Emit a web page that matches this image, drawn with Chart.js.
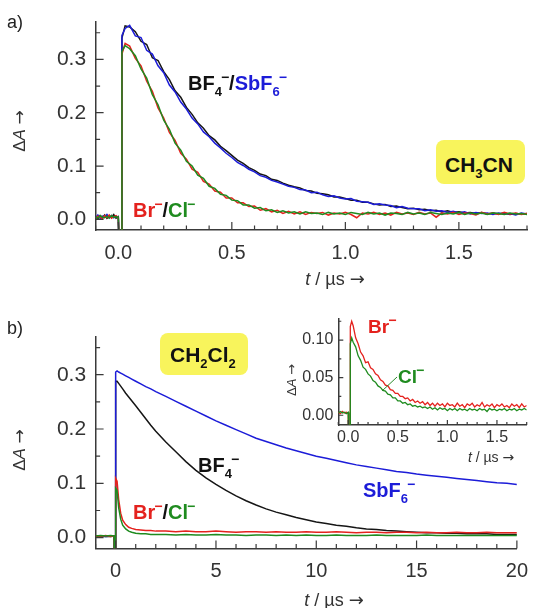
<!DOCTYPE html>
<html>
<head>
<meta charset="utf-8">
<script src="https://cdn.jsdelivr.net/npm/chart.js@4"></script>
<style>
  body { margin: 0; background: #fff; }
  #wrap { position: relative; width: 539px; height: 608px; overflow: hidden; font-family: "Liberation Sans", Arial, sans-serif; color: #333; }
  canvas { position: absolute; }
  .lbl { position: absolute; font-weight: bold; font-size: 20px; line-height: 20px; white-space: nowrap; color: #111; }
  .lbl sub { font-size: 13px; line-height: 0; vertical-align: -6px; }
  .lbl sup { font-size: 14px; line-height: 0; vertical-align: 8px; margin-left: -1px; }
  .box { position: absolute; background: #f8f45c; border-radius: 8px; }
  .ax { position: absolute; white-space: nowrap; line-height: 1; transform: translate(-50%, -50%); color: #333; }
  .ax .arr { font-family: "DejaVu Sans", sans-serif; }
  .rot { transform: translate(-50%, -50%) rotate(-90deg); }
  .tag { position: absolute; font-size: 18px; line-height: 18px; color: #222; }
</style>
</head>
<body>
<div id="wrap">
  <canvas id="chartA" width="539" height="300" style="left:0;top:0;width:539px;height:300px"></canvas>
  <canvas id="chartB" width="539" height="308" style="left:0;top:300px;width:539px;height:308px"></canvas>
  <canvas id="chartC" width="269" height="160" style="left:270px;top:300px;width:269px;height:160px"></canvas>

  <div class="tag" style="left:7px;top:13px">a)</div>
  <div class="tag" style="left:7px;top:319px">b)</div>

  <div class="ax rot" style="left:19px;top:131px;font-size:17px">Δ<i>A</i> <span class="arr">→</span></div>
  <div class="ax" style="left:335px;top:279px;font-size:18px"><i>t</i> / µs <span class="arr">→</span></div>
  <div class="ax rot" style="left:19px;top:450px;font-size:17px">Δ<i>A</i> <span class="arr">→</span></div>
  <div class="ax" style="left:334px;top:600px;font-size:18px"><i>t</i> / µs <span class="arr">→</span></div>
  <div class="ax rot" style="left:291px;top:380px;font-size:13px">Δ<i>A</i> <span class="arr">→</span></div>
  <div class="ax" style="left:491px;top:457px;font-size:14px"><i>t</i> / µs <span class="arr">→</span></div>

  <div class="lbl" style="left:188px;top:73px">BF<sub>4</sub><sup>−</sup>/<span style="color:#1c1cd8">SbF<sub>6</sub><sup>−</sup></span></div>
  <div class="lbl" style="left:133px;top:200px"><span style="color:#e4221e">Br<sup>−</sup></span>/<span style="color:#1f8b1f">Cl<sup>−</sup></span></div>
  <div class="box" style="left:436px;top:140px;width:89px;height:44px"></div>
  <div class="lbl" style="left:445px;top:154px;font-size:21px;line-height:21px">CH<sub>3</sub>CN</div>

  <div class="box" style="left:160px;top:333px;width:88px;height:42px"></div>
  <div class="lbl" style="left:170px;top:344px;font-size:21px;line-height:21px">CH<sub>2</sub>Cl<sub>2</sub></div>
  <div class="lbl" style="left:198px;top:455px">BF<sub>4</sub><sup>−</sup></div>
  <div class="lbl" style="left:133px;top:502px"><span style="color:#e4221e">Br<sup>−</sup></span>/<span style="color:#1f8b1f">Cl<sup>−</sup></span></div>
  <div class="lbl" style="left:363px;top:480px;color:#1c1cd8">SbF<sub>6</sub><sup>−</sup></div>
  <div class="lbl" style="left:368px;top:317px;font-size:19px;line-height:19px;color:#e4221e">Br<sup>−</sup></div>
  <div class="lbl" style="left:398px;top:367px;font-size:19px;line-height:19px;color:#1f8b1f">Cl<sup>−</sup></div>
  <svg style="position:absolute;left:0;top:0" width="539" height="608"><line x1="382" y1="391" x2="397" y2="377" stroke="#2a8a2a" stroke-width="1"/></svg>
</div>
<script>
// ---- panel a) CH3CN, t in µs ----
const tA = [-0.1, -0.09, -0.08, -0.07, -0.06, -0.05, -0.04, -0.03, -0.02, -0.01, 0,
  0.004, 0.015, 0.016, 0.03,
  0.05, 0.075, 0.1, 0.125, 0.15, 0.175, 0.2, 0.225, 0.25, 0.275,
  0.3, 0.325, 0.35, 0.375, 0.4, 0.425, 0.45, 0.475, 0.5, 0.525,
  0.55, 0.575, 0.6, 0.625, 0.65, 0.675, 0.7, 0.725, 0.75, 0.775,
  0.8, 0.825, 0.85, 0.875, 0.9, 0.925, 0.95, 0.975, 1, 1.025,
  1.05, 1.075, 1.1, 1.125, 1.15, 1.175, 1.2, 1.225, 1.25, 1.275,
  1.3, 1.325, 1.35, 1.375, 1.4, 1.425, 1.45, 1.475, 1.5, 1.525,
  1.55, 1.575, 1.6, 1.625, 1.65, 1.675, 1.7, 1.725, 1.75, 1.775, 1.8];
const bf4A = [0.005, 0.001, 0.007, 0.003, 0.008, 0.002, 0.006, 0.004, 0.009, 0.002, 0.005,
  -0.05, -0.05, 0.34, 0.363,
  0.361, 0.352, 0.334, 0.328, 0.303, 0.298, 0.277, 0.262, 0.241, 0.229,
  0.21, 0.197, 0.181, 0.171, 0.157, 0.149, 0.137, 0.129, 0.12, 0.111,
  0.105, 0.097, 0.092, 0.085, 0.082, 0.075, 0.073, 0.068, 0.064, 0.061,
  0.059, 0.054, 0.053, 0.049, 0.048, 0.046, 0.042, 0.042, 0.039, 0.036,
  0.036, 0.032, 0.032, 0.029, 0.027, 0.028, 0.024, 0.025, 0.022, 0.02,
  0.021, 0.018, 0.019, 0.016, 0.017, 0.014, 0.016, 0.013, 0.014, 0.012,
  0.013, 0.011, 0.013, 0.01, 0.012, 0.01, 0.012, 0.009, 0.011, 0.01, 0.011];
const sbf6A = [0.003, 0.008, 0.002, 0.006, 0.004, 0.009, 0.003, 0.007, 0.003, 0.006, 0.004,
  -0.05, -0.05, 0.345, 0.358,
  0.364, 0.344, 0.341, 0.317, 0.31, 0.288, 0.275, 0.252, 0.239, 0.22,
  0.207, 0.19, 0.179, 0.164, 0.155, 0.143, 0.134, 0.124, 0.116, 0.107,
  0.101, 0.094, 0.089, 0.082, 0.079, 0.073, 0.07, 0.066, 0.062, 0.06,
  0.056, 0.055, 0.05, 0.051, 0.046, 0.043, 0.044, 0.04, 0.038, 0.039,
  0.034, 0.033, 0.032, 0.028, 0.029, 0.027, 0.026, 0.022, 0.024, 0.021,
  0.02, 0.02, 0.016, 0.018, 0.015, 0.016, 0.013, 0.015, 0.012, 0.014,
  0.01, 0.013, 0.011, 0.012, 0.009, 0.012, 0.01, 0.011, 0.008, 0.012, 0.01];
const brA = [0.002, 0.006, 0.004, 0.001, 0.007, 0.003, 0.008, 0.002, 0.005, 0.007, 0.003,
  -0.05, -0.05, 0.31, 0.33,
  0.325, 0.302, 0.288, 0.259, 0.24, 0.209, 0.19, 0.163, 0.148, 0.124,
  0.113, 0.094, 0.088, 0.071, 0.066, 0.053, 0.051, 0.04, 0.04, 0.031,
  0.031, 0.024, 0.025, 0.017, 0.02, 0.014, 0.017, 0.011, 0.015, 0.01,
  0.014, 0.009, 0.013, 0.011, 0.013, 0.008, 0.012, 0.01, 0.013, 0.009,
  0.003, 0.012, 0.01, 0.013, 0.009, 0.012, 0.008, 0.013, 0.01, 0.012,
  0.009, 0.013, 0.01, 0.012, 0.004, 0.012, 0.01, 0.013, 0.009, 0.012,
  0.011, 0.008, 0.013, 0.01, 0.012, 0.009, 0.013, 0.01, 0.012, 0.009, 0.011];
const clA = [0.005, 0.002, 0.007, 0.004, 0.003, 0.006, 0.002, 0.007, 0.004, 0.005, 0.004,
  -0.05, -0.05, 0.315, 0.326,
  0.32, 0.307, 0.282, 0.265, 0.234, 0.215, 0.186, 0.169, 0.143, 0.13,
  0.109, 0.1, 0.083, 0.077, 0.062, 0.058, 0.047, 0.045, 0.036, 0.035,
  0.027, 0.027, 0.021, 0.022, 0.016, 0.018, 0.013, 0.016, 0.012, 0.014,
  0.01, 0.014, 0.011, 0.012, 0.009, 0.013, 0.01, 0.012, 0.009, 0.013,
  0.011, 0.009, 0.013, 0.01, 0.012, 0.008, 0.012, 0.011, 0.009, 0.013,
  0.01, 0.012, 0.009, 0.013, 0.011, 0.009, 0.012, 0.01, 0.013, 0.009,
  0.012, 0.01, 0.012, 0.009, 0.012, 0.011, 0.009, 0.012, 0.01, 0.011, 0.009];

// ---- panel b) CH2Cl2, t in µs ----
const tB = [-1, -0.75, -0.5, -0.25, -0.08, -0.07, -0.01, 0,
  0.07, 0.15, 0.25, 0.35, 0.5, 0.65, 0.8, 1, 1.25, 1.5, 1.75, 2,
  2.5, 3, 3.5, 4, 4.5, 5, 5.5, 6, 6.5, 7, 7.5, 8, 8.5, 9, 9.5, 10,
  10.5, 11, 11.5, 12, 12.5, 13, 13.5, 14, 14.5, 15, 15.5, 16, 16.5, 17, 17.5, 18, 18.5, 19, 19.5, 20];
const bf4B = [0.002, 0.003, 0.002, 0.002, 0.003, -0.05, -0.05, 0.288,
  0.288, 0.284, 0.279, 0.274, 0.266, 0.259, 0.252, 0.243, 0.231, 0.219, 0.207, 0.196,
  0.176, 0.158, 0.14, 0.124, 0.11, 0.098, 0.087, 0.077, 0.068, 0.06, 0.053, 0.047, 0.042, 0.037, 0.033, 0.029,
  0.026, 0.023, 0.021, 0.018, 0.016, 0.015, 0.013, 0.012, 0.011, 0.01, 0.009, 0.009, 0.008, 0.008, 0.007, 0.007, 0.007, 0.006, 0.006, 0.006];
const sbf6B = [0.002, 0.003, 0.002, 0.003, 0.002, -0.05, -0.05, 0.305,
  0.307, 0.305, 0.303, 0.301, 0.298, 0.295, 0.292, 0.288, 0.283, 0.278, 0.274, 0.269,
  0.26, 0.251, 0.242, 0.233, 0.224, 0.215, 0.207, 0.199, 0.191, 0.183, 0.177, 0.171, 0.165, 0.16, 0.155, 0.15,
  0.146, 0.142, 0.138, 0.134, 0.131, 0.128, 0.125, 0.122, 0.12, 0.117, 0.115, 0.113, 0.111, 0.109, 0.107, 0.105, 0.103, 0.101, 0.1, 0.098];
const brB = [0.003, 0.002, 0.004, 0.002, 0.003, -0.05, -0.05, 0.109,
  0.104, 0.07, 0.045, 0.032, 0.024, 0.019, 0.017, 0.015, 0.014, 0.013, 0.013, 0.012,
  0.012, 0.011, 0.012, 0.011, 0.011, 0.012, 0.011, 0.01, 0.011, 0.011, 0.01, 0.011, 0.01, 0.01, 0.011, 0.01,
  0.01, 0.011, 0.01, 0.009, 0.01, 0.01, 0.009, 0.01, 0.01, 0.009, 0.01, 0.009, 0.009, 0.01, 0.009, 0.009, 0.01, 0.009, 0.009, 0.009];
const clB = [0.003, 0.004, 0.003, 0.004, 0.003, -0.05, -0.05, 0.091,
  0.087, 0.055, 0.034, 0.023, 0.016, 0.012, 0.01, 0.008, 0.007, 0.007, 0.006, 0.006,
  0.006, 0.005, 0.006, 0.005, 0.005, 0.006, 0.005, 0.005, 0.004, 0.005, 0.005, 0.004, 0.005, 0.004, 0.005, 0.004,
  0.004, 0.005, 0.004, 0.004, 0.004, 0.005, 0.004, 0.004, 0.004, 0.004, 0.005, 0.004, 0.004, 0.004, 0.004, 0.004, 0.004, 0.004, 0.004, 0.004];

// ---- inset: Br- / Cl- in CH2Cl2, short time ----
const tI = [-0.1, -0.08, -0.06, -0.04, -0.02, 0, 0.005, 0.02, 0.021, 0.035,
  0.05, 0.075, 0.1, 0.125, 0.15, 0.175, 0.2, 0.225, 0.25, 0.275,
  0.3, 0.325, 0.35, 0.375, 0.4, 0.425, 0.45, 0.475, 0.5, 0.525,
  0.55, 0.575, 0.6, 0.625, 0.65, 0.675, 0.7, 0.725, 0.75, 0.775,
  0.8, 0.825, 0.85, 0.875, 0.9, 0.925, 0.95, 0.975, 1, 1.025,
  1.05, 1.075, 1.1, 1.125, 1.15, 1.175, 1.2, 1.225, 1.25, 1.275,
  1.3, 1.325, 1.35, 1.375, 1.4, 1.425, 1.45, 1.475, 1.5, 1.525,
  1.55, 1.575, 1.6, 1.625, 1.65, 1.675, 1.7, 1.725, 1.75, 1.775, 1.8];
const brI = [0.004, 0.002, 0.005, 0.003, 0.004, 0.003, -0.05, -0.05, 0.118, 0.125,
  0.119, 0.103, 0.095, 0.084, 0.079, 0.07, 0.071, 0.063, 0.061, 0.055,
  0.053, 0.047, 0.045, 0.04, 0.039, 0.034, 0.033, 0.029, 0.029, 0.025,
  0.025, 0.022, 0.023, 0.019, 0.021, 0.017, 0.019, 0.016, 0.018, 0.014,
  0.017, 0.013, 0.016, 0.012, 0.016, 0.013, 0.015, 0.011, 0.016, 0.013,
  0.014, 0.011, 0.016, 0.012, 0.014, 0.01, 0.015, 0.013, 0.016, 0.011,
  0.014, 0.012, 0.017, 0.011, 0.014, 0.012, 0.015, 0.01, 0.014, 0.012,
  0.015, 0.011, 0.013, 0.01, 0.015, 0.012, 0.014, 0.01, 0.015, 0.011, 0.013];
const clI = [0.003, 0.005, 0.003, 0.004, 0.002, 0.004, -0.05, -0.05, 0.095, 0.103,
  0.097, 0.091, 0.079, 0.073, 0.064, 0.061, 0.055, 0.052, 0.046, 0.044,
  0.039, 0.037, 0.033, 0.032, 0.028, 0.027, 0.023, 0.023, 0.019, 0.019,
  0.016, 0.017, 0.014, 0.015, 0.012, 0.013, 0.011, 0.012, 0.01, 0.011,
  0.009, 0.011, 0.008, 0.01, 0.007, 0.01, 0.008, 0.009, 0.006, 0.009,
  0.007, 0.009, 0.006, 0.009, 0.007, 0.008, 0.006, 0.009, 0.007, 0.008,
  0.006, 0.009, 0.007, 0.008, 0.005, 0.009, 0.007, 0.008, 0.006, 0.008,
  0.007, 0.009, 0.006, 0.008, 0.007, 0.009, 0.006, 0.008, 0.007, 0.009, 0.007];

const BLACK = "#151515";
const BLUE = "#1c1cd8";
const RED = "#e4221e";
const GREEN = "#1f8b1f";
const AXIS = "#3a3a3a";
const FONT = "'Liberation Sans', Arial, sans-serif";

function series(xs, ys, color, width) {
  return {
    data: xs.map((x, i) => ({ x: x, y: ys[i] })),
    borderColor: color,
    borderWidth: width,
    pointRadius: 0,
    fill: false,
    tension: 0,
  };
}

function isMajor(v, step) {
  return Math.abs(v / step - Math.round(v / step)) < 1e-6;
}

// short tick marks pointing into the plot, long ones where a label sits
const inwardTicks = {
  id: "inwardTicks",
  afterDraw(chart, args, opts) {
    const { ctx, chartArea } = chart;
    const xs = chart.scales.x;
    const ys = chart.scales.y;
    ctx.save();
    ctx.strokeStyle = AXIS;
    ctx.lineWidth = 1.2;
    ctx.beginPath();
    xs.ticks.forEach((t) => {
      const px = xs.getPixelForValue(t.value);
      const len = t.label !== "" ? opts.major : opts.minor;
      ctx.moveTo(px, chartArea.bottom);
      ctx.lineTo(px, chartArea.bottom - len);
    });
    ys.ticks.forEach((t) => {
      const py = ys.getPixelForValue(t.value);
      const len = t.label !== "" ? opts.major : opts.minor;
      ctx.moveTo(chartArea.left, py);
      ctx.lineTo(chartArea.left + len, py);
    });
    ctx.stroke();
    ctx.restore();
  },
};

function axis(min, max, step, major, fmt, size, pad, fit) {
  return {
    type: "linear",
    min: min,
    max: max,
    border: { display: true, color: AXIS, width: 1.5 },
    grid: { display: true, drawOnChartArea: false, drawTicks: false },
    ticks: {
      stepSize: step,
      autoSkip: false,
      includeBounds: false,
      maxRotation: 0,
      minRotation: 0,
      padding: pad,
      color: "#333",
      font: { family: FONT, size: size },
      callback: (v) => (isMajor(v, major) ? fmt(v) : ""),
    },
    afterFit: fit,
  };
}

function makeChart(id, datasets, padding, xAxis, yAxis, tickLen) {
  return new Chart(document.getElementById(id), {
    type: "line",
    data: { datasets: datasets },
    options: {
      responsive: false,
      animation: false,
      devicePixelRatio: 1,
      events: [],
      layout: { autoPadding: false, padding: padding },
      plugins: {
        legend: { display: false },
        tooltip: { enabled: false },
        inwardTicks: tickLen,
      },
      scales: { x: xAxis, y: yAxis },
    },
    plugins: [inwardTicks],
  });
}

// panel a
makeChart(
  "chartA",
  [
    series(tA, clA, GREEN, 1.5),
    series(tA, brA, RED, 1.5),
    series(tA, sbf6A, BLUE, 1.5),
    series(tA, bf4A, BLACK, 1.5),
  ],
  { left: 0, top: 21, right: 12, bottom: 0 },
  axis(-0.1, 1.8, 0.1, 0.5, (v) => v.toFixed(1), 20, 11.5, (s) => { s.height = 70; }),
  axis(-0.02, 0.37, 0.05, 0.1, (v) => v.toFixed(1), 21, 9.5, (s) => { s.width = 95.6; }),
  { major: 8, minor: 4.5 }
);

// panel b
makeChart(
  "chartB",
  [
    series(tB, clB, GREEN, 1.5),
    series(tB, brB, RED, 1.5),
    series(tB, sbf6B, BLUE, 1.5),
    series(tB, bf4B, BLACK, 1.5),
  ],
  { left: 0, top: 36.7, right: 12, bottom: 0 },
  axis(-1, 20, 1, 5, (v) => String(v), 20, 11, (s) => { s.height = 59.5; }),
  axis(-0.02, 0.37, 0.05, 0.1, (v) => v.toFixed(1), 21, 9.5, (s) => { s.width = 95.6; }),
  { major: 8, minor: 4.5 }
);

// inset
makeChart(
  "chartC",
  [series(tI, clI, GREEN, 1.3), series(tI, brI, RED, 1.3)],
  { left: 0, top: 19, right: 12.3, bottom: 0 },
  axis(-0.1, 1.8, 0.1, 0.5, (v) => v.toFixed(1), 16, 3, (s) => { s.height = 35; }),
  axis(-0.013, 0.128, 0.025, 0.05, (v) => v.toFixed(2), 16, 5, (s) => { s.width = 68.3; }),
  { major: 5, minor: 3 }
);
</script>
</body>
</html>
